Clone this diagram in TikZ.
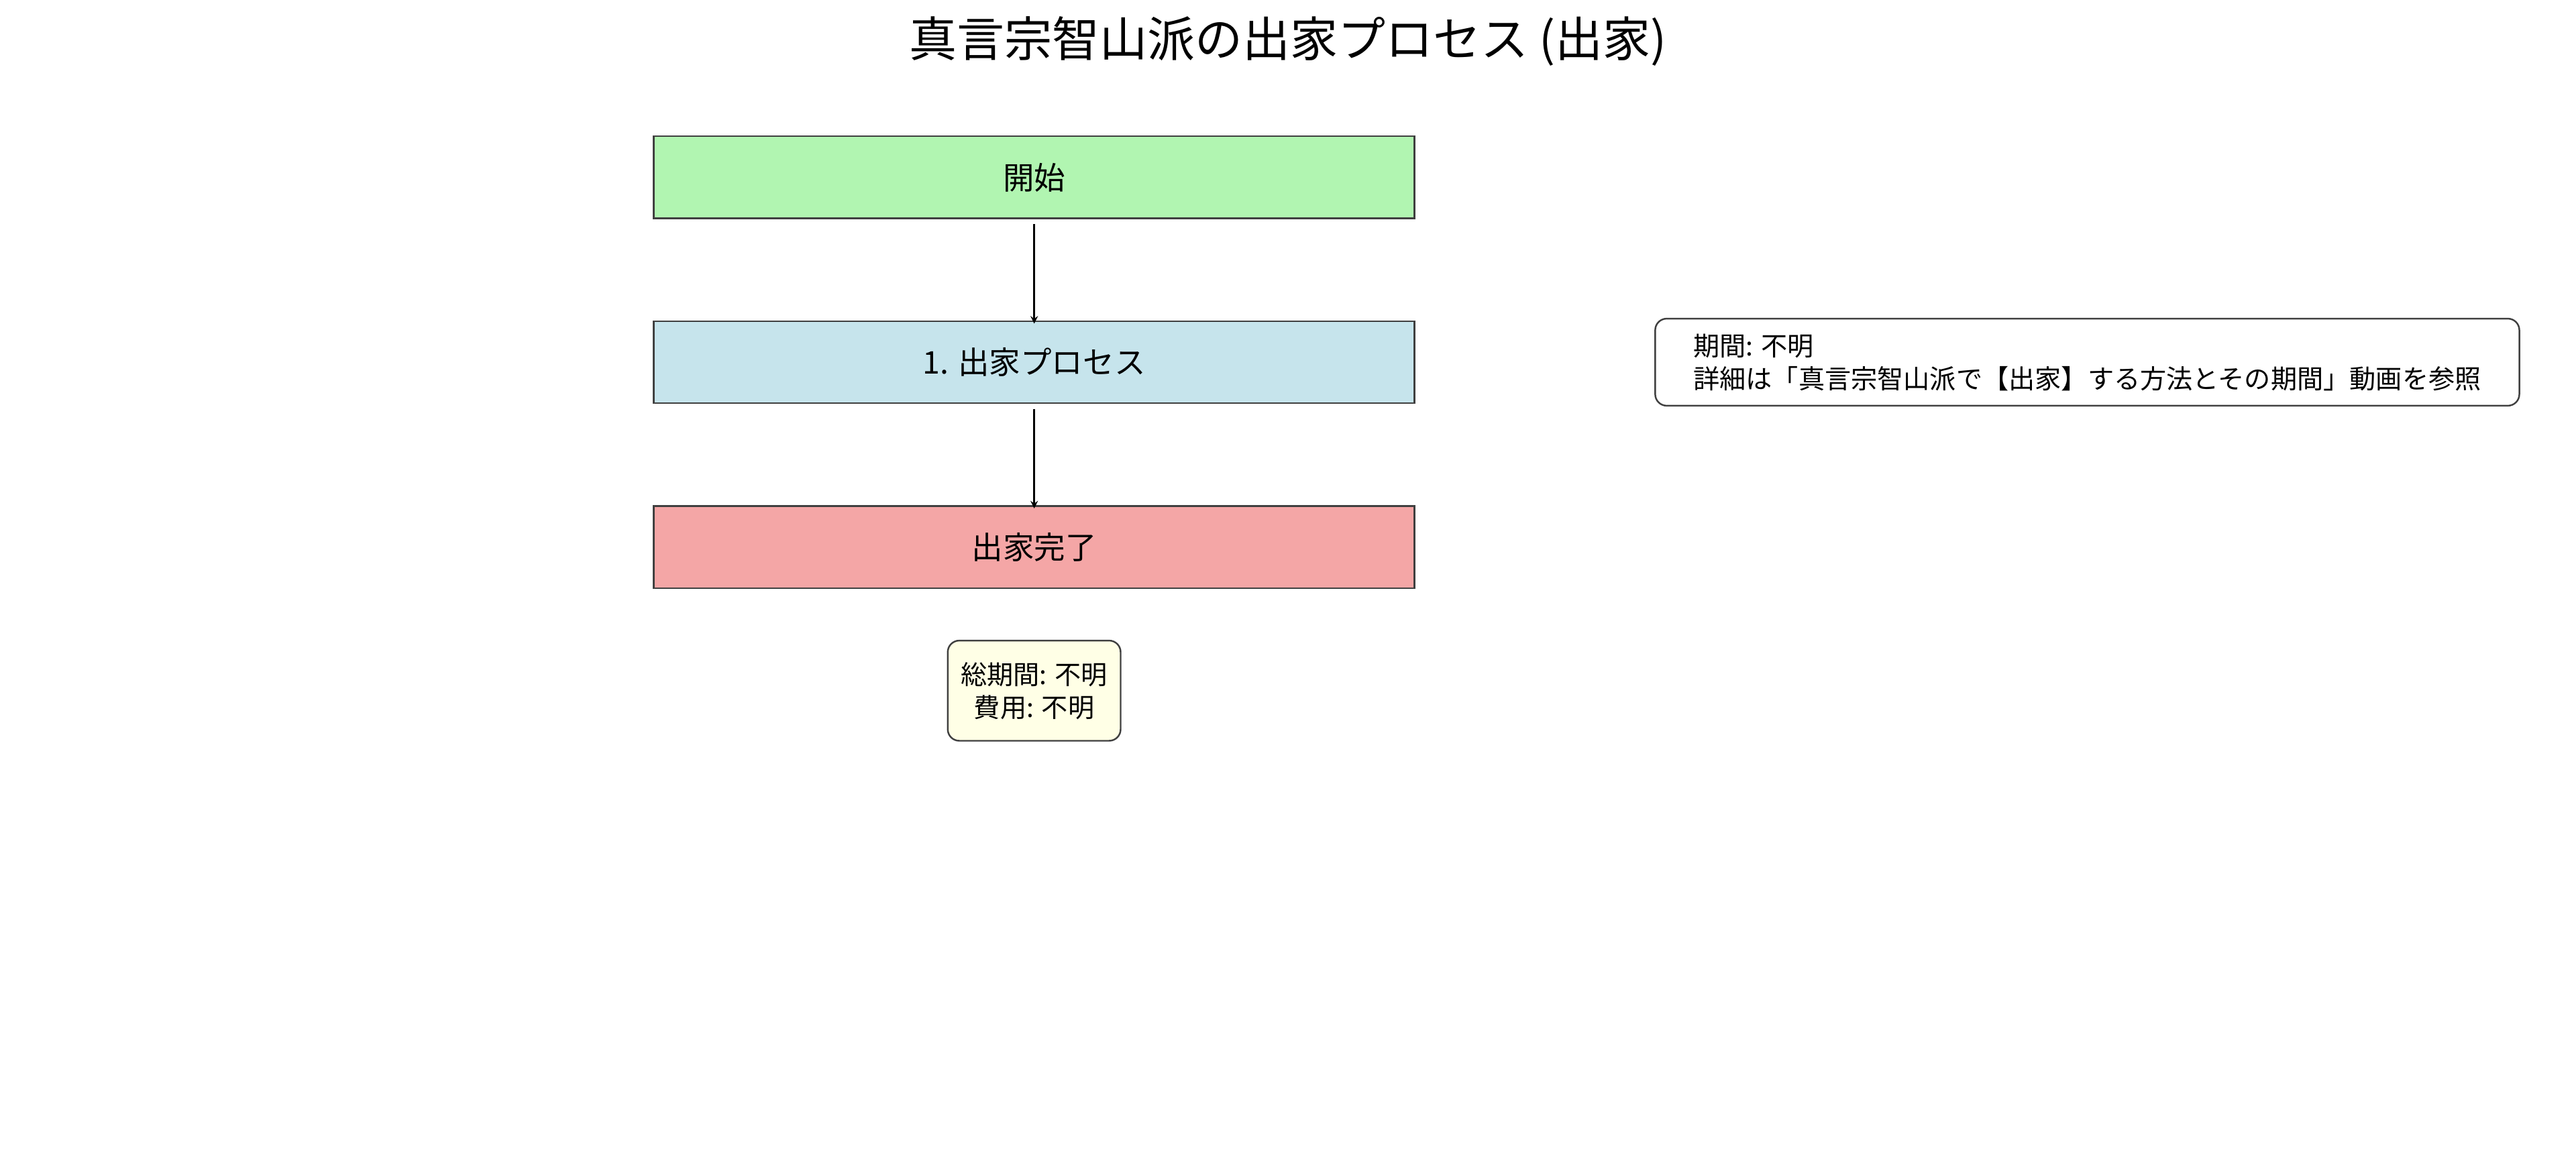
\documentclass[tikz,border=0pt]{standalone}
\usepackage{fontspec}
\setmainfont{Noto Sans CJK JP}
\begin{document}
\begin{tikzpicture}[x=1pt,y=-1pt,
  stepbox/.style={draw=black!75,line width=1pt,minimum width=463pt,minimum height=50pt,font=\fontsize{19}{22}\selectfont},
  notebox/.style={draw=black!75,line width=1pt,rounded corners=7pt,align=left,font=\fontsize{16}{20}\selectfont,inner sep=8pt},
  arr/.style={->,line width=1pt,>=stealth}]
\useasboundingbox (0,0) rectangle (1568,708);
\node[font=\fontsize{29}{34}\selectfont] (title) at (784,25) {真言宗智山派の出家プロセス (出家)};
\node[stepbox,fill=green!30!white!90!black,fill={rgb,255:red,177;green,245;blue,177}] (s) at (629.5,108) {開始};
\node[stepbox,fill={rgb,255:red,198;green,228;blue,236}] (p) at (629.5,220.5) {1. 出家プロセス};
\node[stepbox,fill={rgb,255:red,244;green,166;blue,166}] (e) at (629.5,333) {出家完了};
\draw[arr] (s.south)++(0,3) -- ([yshift=-2pt]p.north);
\draw[arr] (p.south)++(0,3) -- ([yshift=-2pt]e.north);
\node[notebox,minimum width=526pt,minimum height=53pt,anchor=west] (n) at (1007,220.5) {期間: 不明\\詳細は「真言宗智山派で【出家】する方法とその期間」動画を参照};
\node[notebox,align=center,fill={rgb,255:red,255;green,255;blue,230},minimum height=61pt] (t) at (629.5,420.5) {総期間: 不明\\費用: 不明};
\end{tikzpicture}
\end{document}
